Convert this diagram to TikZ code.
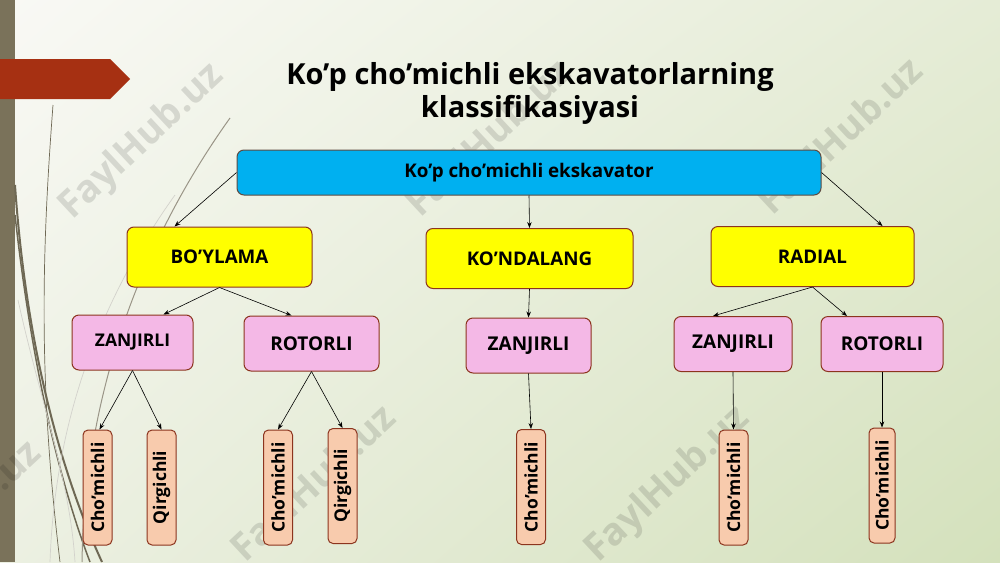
\documentclass[tikz,border=0pt]{standalone}
\usepackage{fontspec}
\setmainfont{Open Sans}
\usetikzlibrary{arrows.meta,shadings}
\definecolor{skyblue}{RGB}{0,176,240}
\definecolor{lemon}{RGB}{255,255,0}
\definecolor{orchid}{RGB}{244,184,230}
\definecolor{peach}{RGB}{248,203,173}
\definecolor{boxline}{RGB}{140,52,30}
\definecolor{topline}{RGB}{95,75,65}
\definecolor{tabred}{RGB}{166,48,18}
\definecolor{sidebar}{RGB}{122,114,90}
\definecolor{wisp}{RGB}{110,104,84}
\definecolor{bgul}{RGB}{249,249,245}
\definecolor{bgur}{RGB}{229,236,214}
\definecolor{bgll}{RGB}{236,240,226}
\definecolor{bglr}{RGB}{212,225,188}
\begin{document}
\begin{tikzpicture}[x=1pt,y=-1pt,line width=.6pt,
  box/.style={draw=boxline,line width=1pt,rounded corners=7pt,inner sep=0pt,align=center,font=\bfseries\fontsize{18.8}{22}\selectfont},
  topbox/.style={box,draw=topline,fill=skyblue,minimum width=584,minimum height=45},
  groupbox/.style={box,fill=lemon,minimum height=60},
  kindbox/.style={box,fill=orchid,minimum height=55,font=\bfseries\fontsize{19}{22}\selectfont},
  leafbox/.style={box,fill=peach,rounded corners=5pt,minimum width=29,minimum height=115,font=\bfseries\fontsize{17.5}{20}\selectfont},
  arr/.style={-{Stealth[length=6pt,width=4.5pt]},line width=.6pt},
  wmark/.style={rotate=43,text=black,text opacity=.12,font=\bfseries\fontsize{38}{42}\selectfont}]
\useasboundingbox (0,0) rectangle (1000,562);
% background
\shade[upper left=bgul,upper right=bgur,lower left=bgll,lower right=bglr] (0,0) rectangle (1000,562);
\fill[sidebar] (0,0) rectangle (15,562);
\fill[tabred] (0,59) -- (110,59) -- (130,79) -- (110,99) -- (0,99) -- cycle;
% wisps
\draw[wisp,line width=2pt] (15,185) .. controls (25,330) and (55,460) .. (102,562);
\draw[wisp,line width=1.5pt] (15,215) .. controls (30,350) and (55,470) .. (90,562);
\draw[wisp,line width=.7pt] (53,105) .. controls (42,250) and (38,380) .. (60,562);
\draw[wisp!70,line width=1pt] (230,118) .. controls (150,230) and (85,380) .. (82,562);
\draw[wisp!30,line width=.7pt] (175,195) .. controls (100,300) and (55,420) .. (50,562);
\draw[wisp!30,line width=.7pt] (18,300) .. controls (40,400) and (70,480) .. (75,562);
% watermarks
\node[wmark] (wm1) at (142,142) {FaylHub.uz};
\node[wmark] (wm2) at (490,140) {FaylHub.uz};
\node[wmark] (wm3) at (842,138) {FaylHub.uz};
\node[wmark] (wm4) at (-40,520) {FaylHub.uz};
\node[wmark] (wm5) at (315,485) {FaylHub.uz};
\node[wmark] (wm6) at (668,485) {FaylHub.uz};
% title
\node[align=center,font=\bfseries\fontsize{29}{33}\selectfont] (title) at (530,93.5) {Ko’p cho’michli ekskavatorlarning\\klassifikasiyasi};
% boxes
\node[topbox] (top) at (529,172.5) {Ko’p cho’michli ekskavator};
\node[groupbox,minimum width=185] (boy) at (219.5,257) {BO’YLAMA};
\node[groupbox,minimum width=207] (kon) at (529.5,258.5) {KO’NDALANG};
\node[groupbox,minimum width=203] (rad) at (812.5,256.5) {RADIAL};
\node[kindbox,minimum width=121,font=\bfseries\fontsize{17.5}{20}\selectfont] (zl) at (132.5,342.5) {ZANJIRLI};
\node[kindbox,minimum width=135] (rl) at (311.5,343.5) {ROTORLI};
\node[kindbox,minimum width=125] (zm) at (528.5,345.5) {ZANJIRLI};
\node[kindbox,minimum width=118] (zr) at (733,344) {ZANJIRLI};
\node[kindbox,minimum width=122] (rr) at (882,344) {ROTORLI};
\node[leafbox] (c1) at (97.5,487.5) {\rotatebox{90}{Cho’michli}};
\node[leafbox] (q1) at (161.5,487.5) {\rotatebox{90}{Qirgichli}};
\node[leafbox] (c2) at (278,487.5) {\rotatebox{90}{Cho’michli}};
\node[leafbox] (q2) at (342.5,486) {\rotatebox{90}{Qirgichli}};
\node[leafbox] (c3) at (531,487) {\rotatebox{90}{Cho’michli}};
\node[leafbox] (c4) at (733.5,487.5) {\rotatebox{90}{Cho’michli}};
\node[leafbox,minimum width=26] (c5) at (882,485.5) {\rotatebox{90}{Cho’michli}};
% arrows
\draw[arr] (top.west) -- ([xshift=-45]boy.north);
\draw[arr] (top.south) -- (kon.north);
\draw[arr] (top.east) -- ([xshift=70]rad.north);
\draw[arr] (boy.south) -- ([xshift=31]zl.north);
\draw[arr] (boy.south) -- ([xshift=-20]rl.north);
\draw[arr] (kon.south) -- (zm.north);
\draw[arr] (rad.south) -- ([xshift=-20]zr.north);
\draw[arr] (rad.south) -- ([xshift=-35]rr.north);
\draw[arr] (zl.south) -- ([xshift=2]c1.north);
\draw[arr] (zl.south) -- (q1.north);
\draw[arr] (rl.south) -- (c2.north);
\draw[arr] (rl.south) -- (q2.north);
\draw[arr] (zm.south) -- (c3.north);
\draw[arr] (zr.south) -- (c4.north);
\draw[arr] (rr.south) -- (c5.north);
\end{tikzpicture}
\end{document}
